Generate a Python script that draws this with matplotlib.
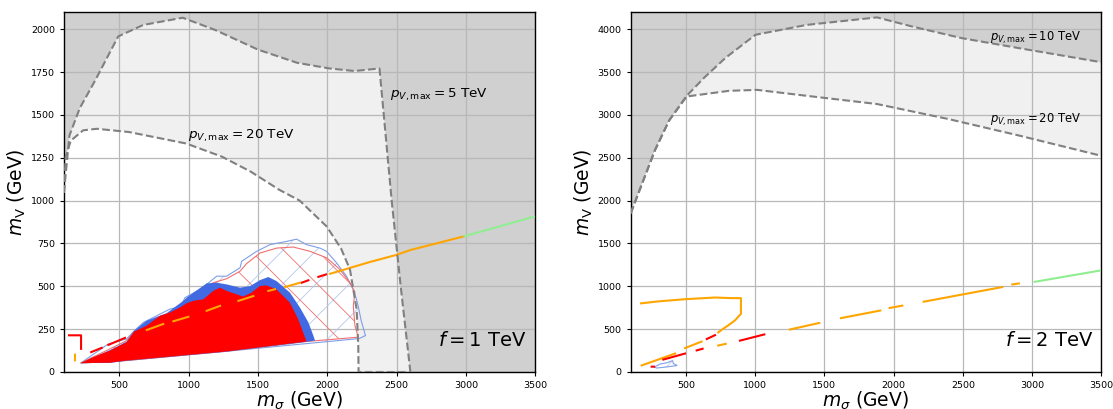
import numpy as np
import matplotlib
matplotlib.use("Agg")
import matplotlib.pyplot as plt
from matplotlib.patches import Polygon

nan = np.nan
plt.rcParams['hatch.linewidth'] = 0.6

# ---------------- f = 1 TeV panel data ----------------
p5_f1_x = [100, 140, 215, 325, 492, 673, 957, 1190, 1500, 1783, 2016, 2197, 2377, 2408, 2465, 2530, 2600]
p5_f1_y = [1045, 1380, 1540, 1700, 1958, 2025, 2067, 1996, 1881, 1804, 1771, 1756, 1771, 1500, 1000, 500, 0]

p20_f1_x = [100, 113, 150, 239, 338, 570, 983, 1241, 1448, 1654, 1801, 1996, 2100, 2164, 2212, 2224, 2226, 2600]
p20_f1_y = [1045, 1256, 1350, 1410, 1419, 1400, 1333, 1256, 1169, 1063, 1000, 849, 720, 598, 366, 150, 0, 0]

# excluded regions (upper boundary then lower boundary)
red_fill_x = [221, 313, 433, 553, 606, 697, 793, 865, 937, 986, 1034, 1106, 1178, 1226, 1274, 1346, 1394,
              1454, 1514, 1562, 1634, 1730, 1790, 1839, 1851, 1274, 553, 433]
red_fill_y = [52, 87, 125, 174, 235, 270, 328, 347, 376, 401, 415, 424, 473, 492, 473, 453, 440,
              463, 502, 505, 482, 405, 309, 203, 178, 120, 67, 54]

blue_fill_x = [221, 433, 553, 606, 697, 841, 962, 986, 1130, 1202, 1274, 1371, 1443, 1515, 1575, 1635,
               1731, 1803, 1864, 1900, 1912, 1851, 1274, 553, 433]
blue_fill_y = [52, 128, 177, 240, 299, 343, 415, 434, 517, 521, 511, 492, 501, 536, 554, 530,
               463, 376, 289, 212, 183, 176, 119, 66, 53]

blue_patch_x = [1359, 1419, 1414, 1371]
blue_patch_y = [193, 218, 196, 187]

blue_hatch_x = [221, 421, 553, 601, 673, 769, 865, 914, 950, 974, 1082, 1130, 1202, 1274, 1371, 1383, 1491,
                1587, 1707, 1779, 1851, 1947, 1995, 2067, 2139, 2187, 2211, 2223, 2245, 2276, 2230, 1274, 553]
blue_hatch_y = [52, 164, 193, 235, 289, 328, 367, 376, 395, 434, 482, 511, 559, 559, 608, 646, 704,
                743, 762, 775, 743, 723, 704, 637, 559, 482, 424, 386, 300, 212, 195, 121, 67]

red_hatch_x = [221, 433, 553, 606, 697, 793, 889, 962, 986, 1106, 1178, 1274, 1371, 1419, 1515, 1635,
               1755, 1876, 1996, 2092, 2164, 2200, 2188, 2200, 2224, 1851, 1274, 553]
red_hatch_y = [52, 135, 183, 235, 280, 318, 351, 386, 420, 473, 521, 544, 588, 633, 694, 723,
               729, 704, 666, 598, 521, 463, 386, 270, 203, 178, 121, 67]

# sensitivity curves (nan separates visible pieces)
f1_red_x = [137, 224, 224, nan, 297, 373, nan, 421, 541, nan, 1816, 1864, nan, 1936, 1991]
f1_red_y = [214, 214, 135, nan, 116, 141, nan, 158, 199, nan, 521, 535, nan, 555, 569]
f1_orange_x = [180, 180, nan, 698, 817, nan, 890, 998, nan, 1130, 1227, nan, 1359, 1467, nan,
               1575, 1623, nan, 1696, 1804, nan, 2020, 2309, 2498, 2602, 2989]
f1_orange_y = [101, 68, nan, 245, 280, nan, 296, 322, nan, 357, 386, nan, 415, 443, nan,
               473, 483, nan, 496, 521, nan, 573, 642, 683, 712, 792]
f1_green_x = [2989, 3500]
f1_green_y = [792, 908]

# ---------------- f = 2 TeV panel data ----------------
p10_f2_x = [100, 276, 378, 505, 632, 785, 1002, 1371, 1880, 2135, 2492, 2899, 3500]
p10_f2_y = [1850, 2589, 2935, 3223, 3435, 3665, 3935, 4050, 4138, 4031, 3896, 3781, 3615]
p20_f2_x = [100, 276, 378, 505, 811, 1014, 1371, 1880, 2390, 2899, 3500]
p20_f2_y = [1850, 2589, 2935, 3215, 3281, 3292, 3223, 3127, 2954, 2762, 2523]

blob_f2_x = [271, 312, 360, 404, 408, 437, 372, 288]
blob_f2_y = [57, 92, 107, 133, 99, 76, 61, 46]

f2_orange_x = [175, 300, 500, 709, 830, 897, 897, 854, 806, 760, 733, nan, 493, 613, nan, 180, 421, nan,
               733, 787, nan, 1251, 1463, nan, 1620, 1904, nan, 1971, 2063, nan, 2217, 2785, nan, 2857, 2905]
f2_orange_y = [801, 824, 850, 869, 862, 862, 679, 602, 545, 495, 462, nan, 279, 355, nan, 77, 215, nan,
               309, 328, nan, 496, 572, nan, 629, 717, nan, 747, 774, nan, 820, 991, nan, 1022, 1033]
f2_red_x = [650, 710, nan, 252, 269, nan, 336, 493, nan, 577, 620, nan, 890, 1066]
f2_red_y = [385, 430, nan, 62, 62, nan, 145, 215, nan, 252, 271, nan, 366, 438]
f2_green_x = [3019, 3500]
f2_green_y = [1052, 1186]

x_ticks = [500, 1000, 1500, 2000, 2500, 3000, 3500]
y_ticks_f1 = [0, 250, 500, 750, 1000, 1250, 1500, 1750, 2000]
y_ticks_f2 = [0, 500, 1000, 1500, 2000, 2500, 3000, 3500, 4000]

DARK = '#d0d0d0'
LIGHT = '#f0f0f0'
DASH = '#808080'

fig = plt.figure(figsize=(11.13, 4.09), dpi=100)
ax1 = fig.add_axes([0.0574, 0.0905, 0.4234, 0.880])
ax2 = fig.add_axes([0.5666, 0.0905, 0.4228, 0.880])


def region(ax, xs, ys, color, z):
    pts = np.column_stack([[xs[0]] + list(xs), [0] + list(ys)])
    pts = np.vstack([pts, [xs[-1], 0]])
    ax.add_patch(Polygon(pts, closed=True, facecolor=color, edgecolor='none', zorder=z))


def poly(ax, xs, ys, **kw):
    ax.add_patch(Polygon(np.column_stack([xs, ys]), closed=True, **kw))


def setup(ax, ymax, yticks):
    ax.set_facecolor(DARK)
    ax.set_xlim(100, 3500)
    ax.set_ylim(0, ymax)
    ax.set_xticks(x_ticks)
    ax.set_yticks(yticks)
    ax.tick_params(labelsize=6.8, length=3, width=0.8)
    ax.grid(True, color='#b8b8b8', linewidth=0.9)
    ax.set_axisbelow('line')
    ax.set_xlabel(r'$m_\sigma$ (GeV)', fontsize=13.5, labelpad=0)
    ax.set_ylabel(r'$m_{\rm V}$ (GeV)', fontsize=13.5, labelpad=2)
    for s in ax.spines.values():
        s.set_linewidth(1.0)


# ---- left panel ----
setup(ax1, 2100, y_ticks_f1)
region(ax1, p5_f1_x, p5_f1_y, LIGHT, 0.3)
region(ax1, p20_f1_x, p20_f1_y, 'white', 0.4)
poly(ax1, blue_hatch_x, blue_hatch_y, facecolor='none', edgecolor='#b4c8f0', linewidth=0, hatch='/', zorder=2)
poly(ax1, blue_hatch_x, blue_hatch_y, facecolor='none', edgecolor='#7f9fe8', linewidth=0.8, zorder=2.1)
poly(ax1, red_hatch_x, red_hatch_y, facecolor='none', edgecolor='#f07070', linewidth=0.8, hatch='\\', zorder=2.2)
poly(ax1, blue_fill_x, blue_fill_y, facecolor='royalblue', edgecolor='none', zorder=3)
poly(ax1, blue_patch_x, blue_patch_y, facecolor='royalblue', edgecolor='none', zorder=3)
poly(ax1, red_fill_x, red_fill_y, facecolor='red', edgecolor='none', zorder=3.5)
ax1.plot(p5_f1_x, p5_f1_y, '--', color=DASH, lw=1.5, zorder=6)
ax1.plot(p20_f1_x, p20_f1_y, '--', color=DASH, lw=1.5, zorder=6)
ax1.plot(f1_red_x, f1_red_y, color='red', lw=1.5, zorder=5)
ax1.plot(f1_orange_x, f1_orange_y, color='orange', lw=1.5, zorder=5)
ax1.plot(f1_green_x, f1_green_y, color='lightgreen', lw=1.5, zorder=5)
ax1.text(2453, 1619, r'$p_{V,\mathrm{max}}=5$ TeV', fontsize=9.7, va='center', ha='left', zorder=7)
ax1.text(996, 1376, r'$p_{V,\mathrm{max}}=20$ TeV', fontsize=9.7, va='center', ha='left', zorder=7)
ax1.text(2799, 185, r'$f = 1$ TeV', fontsize=14, va='center', ha='left', zorder=7)

# ---- right panel ----
setup(ax2, 4200, y_ticks_f2)
region(ax2, p10_f2_x, p10_f2_y, LIGHT, 0.3)
region(ax2, p20_f2_x, p20_f2_y, 'white', 0.4)
poly(ax2, blob_f2_x, blob_f2_y, facecolor='none', edgecolor='#b4c8f0', linewidth=0, hatch='/', zorder=2)
poly(ax2, blob_f2_x, blob_f2_y, facecolor='none', edgecolor='#7f9fe8', linewidth=0.8, zorder=2.1)
ax2.plot(p10_f2_x, p10_f2_y, '--', color=DASH, lw=1.5, zorder=6)
ax2.plot(p20_f2_x, p20_f2_y, '--', color=DASH, lw=1.5, zorder=6)
ax2.plot(f2_orange_x, f2_orange_y, color='orange', lw=1.5, zorder=5)
ax2.plot(f2_red_x, f2_red_y, color='red', lw=1.5, zorder=5)
ax2.plot(f2_green_x, f2_green_y, color='lightgreen', lw=1.5, zorder=5)
ax2.text(2696, 3898, r'$p_{V,\mathrm{max}}=10$ TeV', fontsize=8.3, va='center', ha='left', zorder=7)
ax2.text(2696, 2936, r'$p_{V,\mathrm{max}}=20$ TeV', fontsize=8.3, va='center', ha='left', zorder=7)
ax2.text(2805, 370, r'$f = 2$ TeV', fontsize=14, va='center', ha='left', zorder=7)

fig.savefig('out.png', dpi=100)
